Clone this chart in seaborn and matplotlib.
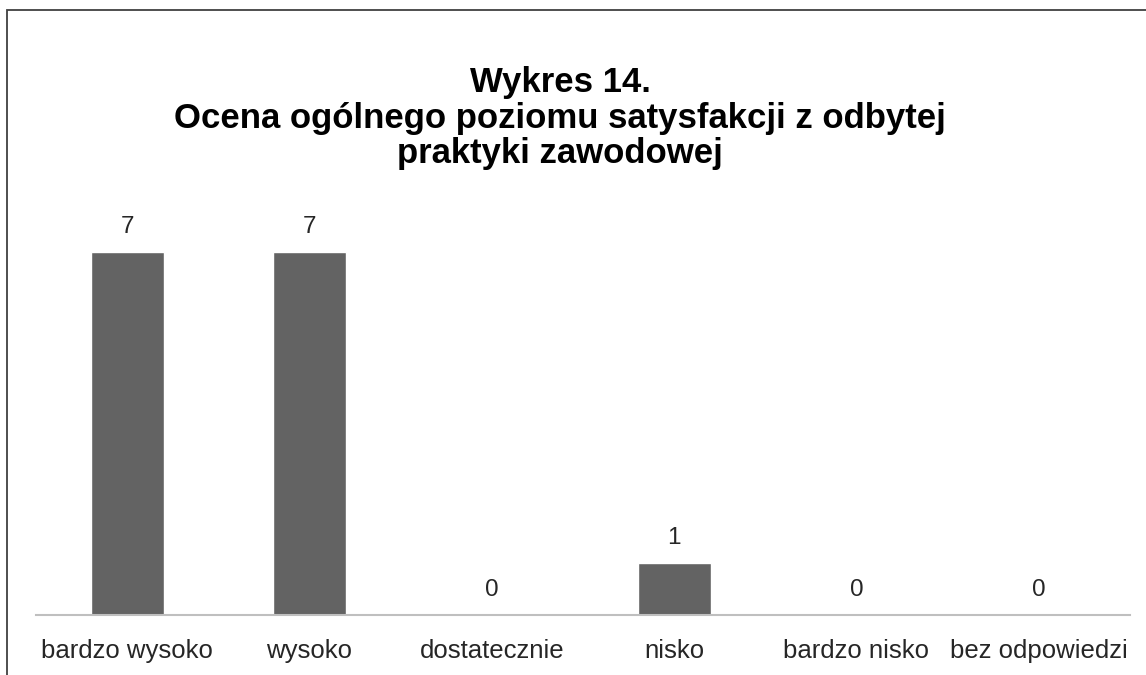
import numpy as np
import pandas as pd
import seaborn as sns
import matplotlib.pyplot as plt
from matplotlib.patches import Rectangle

categories = ["bardzo wysoko", "wysoko", "dostatecznie", "nisko", "bardzo nisko", "bez odpowiedzi"]
counts = [7, 7, 0, 1, 0, 0]
title = "Wykres 14.\nOcena ogólnego poziomu satysfakcji z odbytej\npraktyki zawodowej"

sns.set_style("white")
plt.rcParams['font.family'] = ['Liberation Sans', 'DejaVu Sans']

df = pd.DataFrame({"kategoria": categories, "liczba": counts})

fig = plt.figure(figsize=(11.46, 6.75), dpi=100)
ax = fig.add_axes([0.0314, 0.0889, 0.9546, 0.6148])

sns.barplot(data=df, x="kategoria", y="liczba", color="#636363", width=0.4,
            saturation=1, ax=ax)
ax.bar_label(ax.containers[0], padding=10, fontsize=17.5, color="#262626")

ax.set_ylim(0, 8)
ax.set_xlim(-0.5, len(categories) - 0.5)
ax.set_xlabel("")
ax.set_ylabel("")
ax.set_yticks([])
ax.tick_params(axis="x", length=0, pad=17, labelsize=18.5, labelcolor="#262626")
for side in ["top", "right", "left"]:
    ax.spines[side].set_visible(False)
ax.spines["bottom"].set_color("#bfbfbf")
ax.spines["bottom"].set_linewidth(1.5)

fig.text(0.489, 0.902, title, ha="center", va="top", fontsize=25,
         fontweight="bold", linespacing=1.1, color="#000000")

# chart frame (cropped on the right and bottom)
fig.patches.append(Rectangle((0.006, -0.1), 1.2, 1.085, transform=fig.transFigure,
                             fill=False, edgecolor="#404040", linewidth=1.3))

plt.savefig("out.png", dpi=100)
